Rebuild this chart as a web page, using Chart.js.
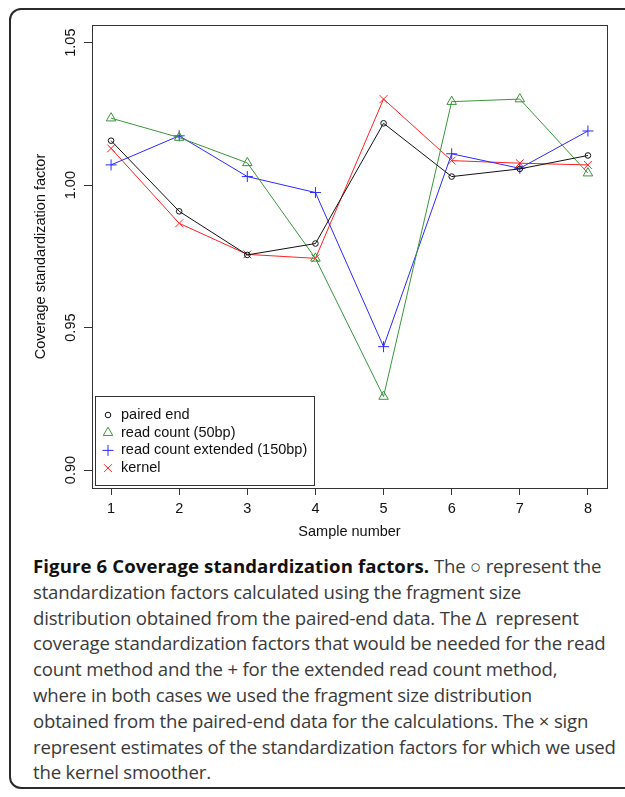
<!DOCTYPE html>
<html>
<head>
<meta charset="utf-8">
<script src="https://cdn.jsdelivr.net/npm/chart.js@4.4.1/dist/chart.umd.min.js"></script>
<style>
  html, body { margin: 0; padding: 0; background: #fff; }
  body { width: 625px; height: 797px; position: relative; overflow: hidden; }
  #frame {
    position: absolute; left: 9px; top: 8px; width: 640px; height: 781px;
    border: 2px solid #2a2a2a; border-radius: 12px; box-sizing: border-box;
  }
  #chartBox { position: absolute; left: 0; top: 0; width: 625px; height: 545px; }
  #caption {
    position: absolute; left: 33px; top: 553px; white-space: pre;
    font-family: "Open Sans", sans-serif; font-size: 18.6px; line-height: 25.8px;
    color: #3a3a3a; letter-spacing: -0.2px;
  }
  #caption b { color: #111; font-weight: 700; letter-spacing: 0.1px; }
</style>
</head>
<body>
<div id="frame"></div>
<div id="chartBox"><canvas id="chartFactors"></canvas></div>
<div id="caption"><b>Figure 6 Coverage standardization factors.</b> The ○ represent the
standardization factors calculated using the fragment size
distribution obtained from the paired-end data. The Δ  represent
coverage standardization factors that would be needed for the read
count method and the + for the extended read count method,
where in both cases we used the fragment size distribution
obtained from the paired-end data for the calculations. The × sign
represent estimates of the standardization factors for which we used
the kernel smoother.</div>
<script>
// 数据
const samples = [1, 2, 3, 4, 5, 6, 7, 8];
const pairedEnd = [1.0156, 0.9908, 0.9755, 0.9795, 1.0217, 1.0030, 1.0057, 1.0104];
const readCount50 = [1.0235, 1.0167, 1.0078, 0.9743, 0.9258, 1.0293, 1.0302, 1.0042];
const readCountExt150 = [1.0071, 1.0173, 1.0030, 0.9974, 0.9433, 1.0110, 1.0059, 1.0190];
const kernel = [1.0129, 0.9866, 0.9757, 0.9743, 1.0302, 1.0086, 1.0077, 1.0071];
const xTicks = [1, 2, 3, 4, 5, 6, 7, 8];
const yTicks = [0.90, 0.95, 1.00, 1.05];
const seriesLabels = ['paired end', 'read count (50bp)', 'read count extended (150bp)', 'kernel'];

const axisFont = { family: '"Liberation Sans", Arial, sans-serif', size: 14.5 };

function toPoints(values) {
    return samples.map((s, i) => ({ x: s, y: values[i] }));
}

let seriesStyle = [
    { color: '#111111', pointStyle: 'circle', radius: 2.8 },
    { color: '#3a963a', pointStyle: 'triangle', radius: 5.5 },
    { color: '#2a2aff', pointStyle: 'cross', radius: 5.5 },
    { color: '#ff2020', pointStyle: 'crossRot', radius: 5.5 }
];

let datasets = [pairedEnd, readCount50, readCountExt150, kernel].map((values, i) => ({
    label: seriesLabels[i],
    data: toPoints(values),
    borderColor: seriesStyle[i].color,
    backgroundColor: 'rgba(0,0,0,0)',
    pointBorderColor: seriesStyle[i].color,
    pointBackgroundColor: 'rgba(0,0,0,0)',
    pointStyle: seriesStyle[i].pointStyle,
    pointRadius: seriesStyle[i].radius,
    pointBorderWidth: 1,
    borderWidth: 1,
    tension: 0
}));

// 边框和图例
const framePlugin = {
    id: 'framePlugin',
    afterDraw(chart) {
        const { ctx, chartArea } = chart;
        ctx.save();
        ctx.strokeStyle = '#333';
        ctx.lineWidth = 1;
        ctx.strokeRect(chartArea.left + 0.5, chartArea.top + 0.5,
            chartArea.right - chartArea.left, chartArea.bottom - chartArea.top);

        // legend box
        const lx = chartArea.left + 3, ly = chartArea.bottom - 92;
        const lw = 219, lh = 89;
        ctx.fillStyle = '#fff';
        ctx.fillRect(lx, ly, lw, lh);
        ctx.strokeRect(lx + 0.5, ly + 0.5, lw, lh);
        ctx.font = '14.5px "Liberation Sans", Arial, sans-serif';
        ctx.textBaseline = 'middle';
        seriesLabels.forEach((label, i) => {
            const cy = ly + 19 + i * 17.7;
            const cx = lx + 13;
            const st = seriesStyle[i];
            ctx.strokeStyle = st.color;
            ctx.lineWidth = 1;
            ctx.beginPath();
            if (st.pointStyle === 'circle') {
                ctx.arc(cx, cy, st.radius, 0, Math.PI * 2);
            } else if (st.pointStyle === 'triangle') {
                const r = st.radius;
                ctx.moveTo(cx, cy - r);
                ctx.lineTo(cx + r * Math.sin(2 * Math.PI / 3), cy - r * Math.cos(2 * Math.PI / 3));
                ctx.lineTo(cx + r * Math.sin(4 * Math.PI / 3), cy - r * Math.cos(4 * Math.PI / 3));
                ctx.closePath();
            } else if (st.pointStyle === 'cross') {
                ctx.moveTo(cx - st.radius, cy); ctx.lineTo(cx + st.radius, cy);
                ctx.moveTo(cx, cy - st.radius); ctx.lineTo(cx, cy + st.radius);
            } else {
                const d = st.radius * Math.SQRT1_2;
                ctx.moveTo(cx - d, cy - d); ctx.lineTo(cx + d, cy + d);
                ctx.moveTo(cx + d, cy - d); ctx.lineTo(cx - d, cy + d);
            }
            ctx.stroke();
            ctx.fillStyle = '#111';
            ctx.fillText(label, lx + 26, cy);
        });
        ctx.restore();
    }
};

let chartFactors = new Chart(document.getElementById('chartFactors'), {
    type: 'line',
    data: { datasets: datasets },
    options: {
        responsive: true,
        maintainAspectRatio: false,
        animation: false,
        layout: { padding: { top: 25, right: 18, left: 0, bottom: 0 } },
        plugins: { legend: { display: false }, tooltip: { enabled: false } },
        scales: {
            x: {
                type: 'linear',
                min: 0.72,
                max: 8.28,
                afterBuildTicks: (scale) => { scale.ticks = xTicks.map(v => ({ value: v })); },
                afterFit: (scale) => { scale.height = 57; },
                grid: { drawOnChartArea: false, drawTicks: true, tickLength: 7, tickColor: '#333' },
                border: { display: true, color: '#333' },
                ticks: { color: '#111', font: axisFont, padding: 5, maxRotation: 0, autoSkip: false,
                    callback: (v) => String(v) },
                title: { display: true, text: 'Sample number', color: '#111', font: axisFont,
                    padding: { top: 0, bottom: 4 } }
            },
            y: {
                type: 'linear',
                min: 0.8937,
                max: 1.0562,
                afterBuildTicks: (scale) => { scale.ticks = yTicks.map(v => ({ value: v })); },
                afterFit: (scale) => { scale.width = 92; },
                grid: { drawOnChartArea: false, drawTicks: true, tickLength: 8, tickColor: '#333' },
                border: { display: true, color: '#333' },
                ticks: { color: '#111', font: axisFont, padding: -1, minRotation: 90, crossAlign: 'center',
                    callback: (v) => v.toFixed(2) },
                title: { display: true, text: 'Coverage standardization factor', color: '#111', font: axisFont,
                    padding: { top: 32, bottom: 0 } }
            }
        }
    },
    plugins: [framePlugin]
});
</script>
</body>
</html>
